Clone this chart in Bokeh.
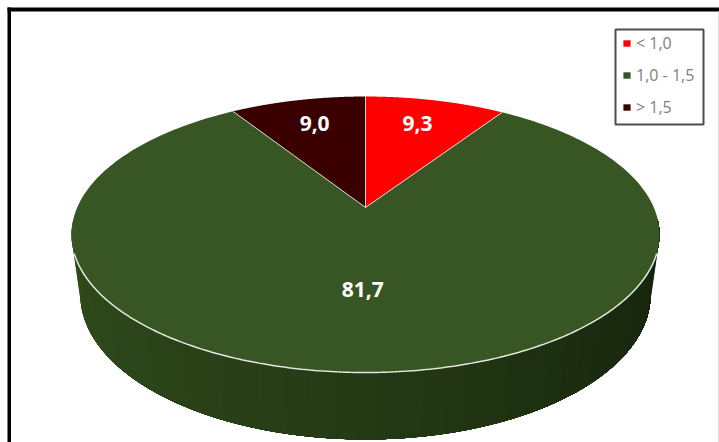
import numpy as np
from bokeh.embed import file_html
from bokeh.models import Legend, LegendItem, Range1d
from bokeh.plotting import figure
from bokeh.resources import INLINE

# Share of each class, in percent, clockwise from twelve o'clock
categories = ["< 1,0", "1,0 - 1,5", "> 1,5"]
shares = [9.3, 81.7, 9.0]
labels = ["9,3", "81,7", "9,0"]
colors = ["#ff0000", "#375623", "#3a0000"]

# Label placement on the disc: radius and a small horizontal nudge in pixels
label_radius = [0.75, 0.55, 0.75]
label_nudge = [-2.5, -1.0, 2.0]

# Projection of the tilted disc onto the page
APEX_X, APEX_Y = 365.0, 207.0
SCALE_X, SCALE_Y, TILT = 288.3, 132.7, 0.1957
# Lower face of the drum relative to the upper face
DROP, LOWER_X, LOWER_Y = 58.7, 0.97, 1.05

side_stops = [0.0, 0.25, 0.5, 0.75, 1.0]
side_shades = [(48, 76, 28), (44, 68, 25), (36, 58, 21), (27, 44, 16), (22, 35, 12)]


def project(phi, r=1.0):
    """Map a polar position on the disc (clockwise from the back) to page pixels."""
    u, v = r * np.sin(phi), r * np.cos(phi)
    w = 1 + TILT * v
    return APEX_X + SCALE_X * u / w, APEX_Y - SCALE_Y * v / w


def lower(x, y):
    return APEX_X + LOWER_X * (x - APEX_X), APEX_Y + DROP + LOWER_Y * (y - APEX_Y)


p = figure(width=719, height=442, output_backend="svg", toolbar_location=None,
           x_range=Range1d(0, 719), y_range=Range1d(442, 0),
           min_border=0, outline_line_color=None, background_fill_color="white")
p.xaxis.visible = False
p.yaxis.visible = False
p.grid.visible = False

# Picture frame: heavy on the top and left, faint on the right
p.quad(left=7, right=719, top=7, bottom=11, fill_color="black", line_color=None)
p.quad(left=7, right=10.5, top=7, bottom=442, fill_color="black", line_color=None)
p.quad(left=717.5, right=719, top=11, bottom=442, fill_color="#dcdcdc", line_color=None)

# Side wall of the drum: each band runs to the far end and the next one paints
# over it, so no seams show between the shades
edges = np.radians(np.linspace(265, 95, 46))
end_phi = edges[-1]
for i in range(len(edges) - 1):
    phi = np.linspace(edges[i], end_phi, 200)
    tx, ty = project(phi)
    bx, by = lower(tx, ty)
    frac = i / (len(edges) - 2)
    rgb = [int(round(np.interp(frac, side_stops, [s[c] for s in side_shades]))) for c in range(3)]
    shade = "#%02x%02x%02x" % tuple(rgb)
    p.patch(np.r_[tx, bx[::-1]], np.r_[ty, by[::-1]], fill_color=shade, line_color=None)

# Upper face, one patch per class
bounds = np.cumsum([0.0] + shares) / sum(shares) * 2 * np.pi
bounds[-1] = 2 * np.pi
items = []
for i, name in enumerate(categories):
    phi = np.linspace(bounds[i], bounds[i + 1], 240)
    ax, ay = project(phi)
    r = p.patch(np.r_[APEX_X, ax], np.r_[APEX_Y, ay], fill_color=colors[i], line_color=None)
    items.append(LegendItem(label=name, renderers=[r]))

# Thin light separators between the slices and the bright front rim
for b in bounds[:-1]:
    ex, ey = project(np.array([b]))
    p.line([APEX_X, ex[0]], [APEX_Y, ey[0]], line_color="#d4d8d0", line_width=1)
rx, ry = project(np.radians(np.linspace(109, 251, 200)))
p.line(rx, ry, line_color="#e6e9e2", line_width=1.5)

# Value labels inside the slices
mids = (bounds[:-1] + bounds[1:]) / 2
tx = []
ty = []
for m, rad, nudge in zip(mids, label_radius, label_nudge):
    x, y = project(np.array([m]), rad)
    tx.append(x[0] + nudge)
    ty.append(y[0])
p.text(tx, ty, text=labels, text_color="white", text_align="center", text_baseline="middle",
       text_font_size="21px", text_font_style="bold", text_font={"value": "Open Sans"})

# Legend box, with the entries laid out inside it
p.quad(left=615, right=703, top=29, bottom=124, fill_color="white",
       line_color="#4d4d4d", line_width=2)
legend = Legend(items=items, location=(622, 324), orientation="vertical",
                border_line_color=None, background_fill_alpha=0,
                label_text_color="#808080", label_text_font="Open Sans",
                label_text_font_size="16px",
                glyph_width=9, glyph_height=8, padding=6, spacing=10,
                label_standoff=5, margin=0, label_height=18)
p.add_layout(legend, "center")

open("out.html", "w").write(file_html(p, INLINE))
